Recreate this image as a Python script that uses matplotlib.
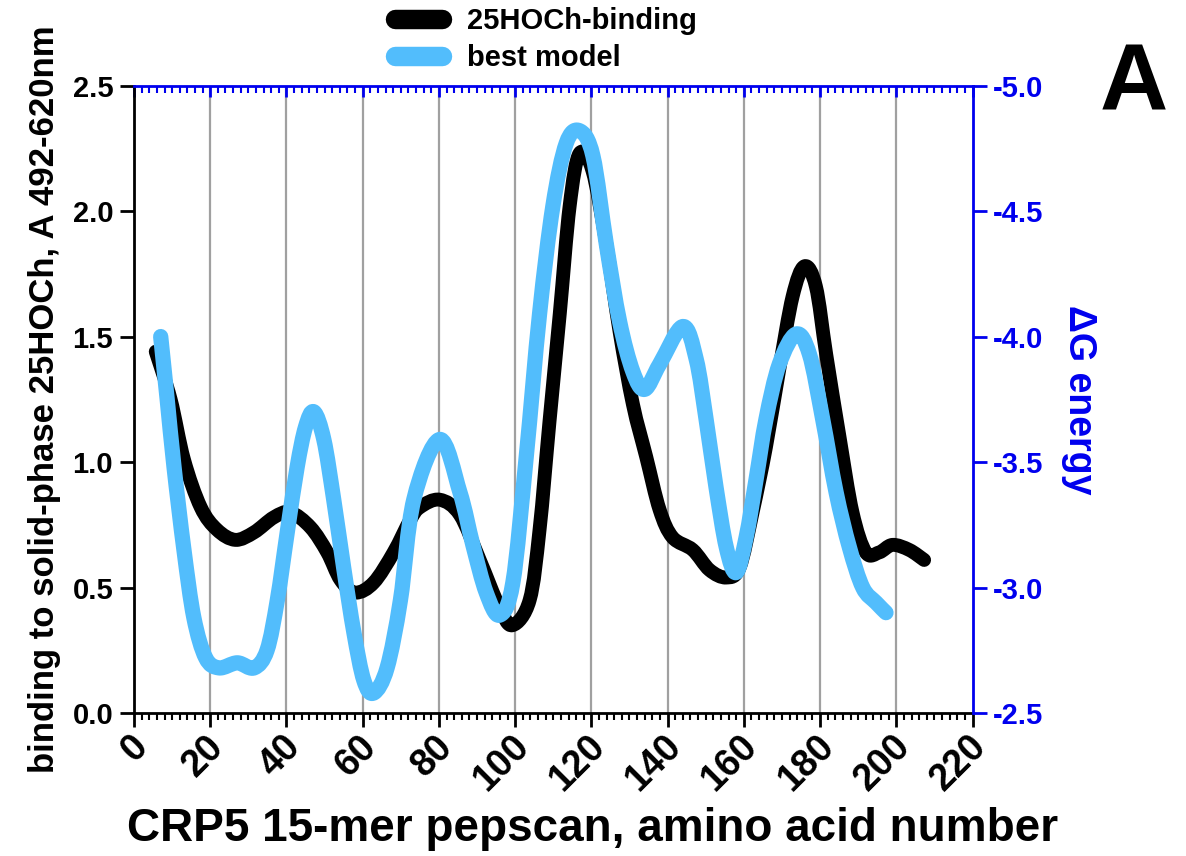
import numpy as np
import matplotlib.pyplot as plt
import matplotlib.transforms as mtransforms
from matplotlib.path import Path
from matplotlib.patches import PathPatch
from matplotlib.lines import Line2D
from matplotlib.ticker import MultipleLocator

plt.rcParams['font.family'] = ['Liberation Sans', 'DejaVu Sans']
plt.rcParams['font.weight'] = 'bold'
plt.rcParams['axes.unicode_minus'] = False

# 25HOCh binding (left axis, A 492-620nm)
bind_x = [5.7, 9.6, 13.1, 17.5, 21.8, 26.6, 31.5, 36.7, 41.0, 46.3, 50.7, 54.2, 58.1,
          62.9, 68.1, 72.5, 75.0, 80.2, 85.5, 90.7, 95.9, 99.3, 103.8, 106.4, 109.0,
          111.7, 114.3, 116.9, 120.3, 123.9, 127.4, 130.9, 134.4, 137.9, 141.3, 146.6,
          151.0, 155.4, 158.9, 162.3, 165.8, 169.3, 172.8, 175.9, 178.9, 181.6, 185.1,
          188.5, 192.0, 195.5, 199.0, 203.4, 207.3]
bind_y = [1.44, 1.25, 1.01, 0.82, 0.73, 0.69, 0.72, 0.78, 0.80, 0.74, 0.64, 0.53, 0.48,
          0.52, 0.64, 0.77, 0.82, 0.85, 0.79, 0.61, 0.42, 0.35, 0.45, 0.73, 1.16,
          1.59, 2.02, 2.23, 2.16, 1.87, 1.52, 1.23, 1.02, 0.81, 0.70, 0.65,
          0.57, 0.54, 0.58, 0.80, 1.06, 1.37, 1.66, 1.78, 1.70, 1.43, 1.10,
          0.80, 0.64, 0.64, 0.67, 0.65, 0.61]

# best model (right axis, delta G)
model_x = [7.0, 8.7, 10.5, 13.1, 15.7, 18.8, 22.3, 27.1, 31.5, 34.9, 37.6, 40.2, 42.8,
           45.0, 47.2, 49.8, 52.4, 55.0, 57.7, 60.3, 62.9, 66.4, 69.9, 73.4, 80.2, 85.5,
           88.9, 92.4, 95.9, 99.4, 102.9, 106.4, 109.9, 113.4, 116.9, 120.4, 123.9,
           127.4, 130.9, 134.0, 137.9, 144.0, 147.5, 150.1, 152.7, 155.4, 158.0, 160.6,
           163.2, 165.8, 169.3, 173.7, 177.2, 180.7, 184.2, 187.7, 191.2, 194.7, 197.3]
model_dg = [-4.00, -3.75, -3.48, -3.15, -2.88, -2.72, -2.68, -2.70, -2.68, -2.75, -2.95,
            -3.22, -3.48, -3.64, -3.70, -3.59, -3.35, -3.08, -2.82, -2.63, -2.58, -2.68,
            -2.95, -3.35, -3.59, -3.38, -3.17, -2.98, -2.89, -3.02, -3.52, -4.09, -4.52,
            -4.77, -4.82, -4.72, -4.37, -4.06, -3.86, -3.79, -3.89, -4.04, -3.91, -3.67,
            -3.40, -3.16, -3.06, -3.20, -3.43, -3.67, -3.89, -4.01, -3.93, -3.67, -3.38,
            -3.16, -3.00, -2.94, -2.90]

blue = '#0000ee'
sky = '#52bdfc'


def smooth_path(xs, ys):
    # Catmull-Rom through the points, drawn as cubic Bezier segments
    p = np.column_stack([xs, ys]).astype(float)
    verts = [p[0]]
    codes = [Path.MOVETO]
    n = len(p)
    for i in range(n - 1):
        p0 = p[i - 1] if i > 0 else p[i]
        p3 = p[i + 2] if i + 2 < n else p[i + 1]
        c1 = p[i] + (p[i + 1] - p0) / 6.0
        c2 = p[i + 1] - (p3 - p[i]) / 6.0
        verts += [c1, c2, p[i + 1]]
        codes += [Path.CURVE4] * 3
    return Path(verts, codes)


fig = plt.figure(figsize=(11.86, 8.56), dpi=100)
ax = fig.add_axes([0.113, 0.167, 0.707, 0.733])
ax2 = ax.twinx()

ax.add_patch(PathPatch(smooth_path(bind_x, bind_y), fill=False, edgecolor='black',
                       lw=10, capstyle='round', joinstyle='round', zorder=3))
ax2.add_patch(PathPatch(smooth_path(model_x, model_dg), fill=False, edgecolor=sky,
                        lw=11, capstyle='round', joinstyle='round', zorder=3))

ax.set_xlim(0, 220)
ax.set_ylim(0, 2.5)
ax2.set_ylim(-2.5, -5.0)

ax.xaxis.set_major_locator(MultipleLocator(20))
ax.xaxis.set_minor_locator(MultipleLocator(2))
ax.yaxis.set_major_locator(MultipleLocator(0.5))
ax.yaxis.set_major_formatter(plt.FormatStrFormatter('%.1f'))
ax2.yaxis.set_major_locator(MultipleLocator(0.5))
ax2.yaxis.set_major_formatter(plt.FormatStrFormatter('%.1f'))

# vertical grid
for gx in range(20, 220, 20):
    ax.axvline(gx, color='#a0a0a0', lw=1.6, zorder=0)

for s in ['left', 'bottom']:
    ax.spines[s].set_linewidth(2)
    ax.spines[s].set_color('black')
ax.spines['top'].set_visible(False)
ax.spines['right'].set_visible(False)
ax2.spines['left'].set_visible(False)
ax2.spines['bottom'].set_visible(False)
ax2.spines['top'].set_color(blue)
ax2.spines['top'].set_linewidth(2)
ax2.spines['right'].set_color(blue)
ax2.spines['right'].set_linewidth(2)

ax.tick_params(axis='x', which='major', length=10, width=2, direction='out',
               labelsize=27, pad=1)
ax.tick_params(axis='x', which='minor', length=5, width=1.5, direction='out')
ax.tick_params(axis='y', which='major', length=10, width=2, direction='out',
               labelsize=21, pad=5)
ax2.tick_params(axis='y', which='major', length=10, width=2, direction='out',
                colors=blue, labelsize=21, pad=5)

# top axis ticks (blue, inward)
top = ax.secondary_xaxis('top')
top.xaxis.set_major_locator(MultipleLocator(20))
top.xaxis.set_minor_locator(MultipleLocator(2))
top.tick_params(which='major', direction='in', length=8, width=2, color=blue,
                labeltop=False)
top.tick_params(which='minor', direction='in', length=5, width=1.5, color=blue)
top.spines['top'].set_visible(False)

offset = mtransforms.ScaledTranslation(0.21, 0, fig.dpi_scale_trans)
for lab in ax.get_xticklabels():
    lab.set_rotation(45)
    lab.set_ha('right')
    lab.set_fontweight('bold')
    lab.set_transform(lab.get_transform() + offset)
for lab in ax.get_yticklabels() + ax2.get_yticklabels():
    lab.set_fontweight('bold')

fig.text(0.5, 0.031, 'CRP5 15-mer pepscan, amino acid number', fontsize=33,
         fontweight='bold', ha='center', va='center')
ax.set_ylabel('binding to solid-phase 25HOCh, A 492-620nm', fontsize=25,
              fontweight='bold', labelpad=8)
ax2.set_ylabel('ΔG energy', fontsize=27, fontweight='bold', color=blue,
               rotation=270, labelpad=38)

fig.text(0.985, 0.952, 'A', fontsize=68, fontweight='bold', ha='right', va='top')

h1 = Line2D([], [], color='black', lw=14, solid_capstyle='round')
h2 = Line2D([], [], color=sky, lw=14, solid_capstyle='round')
fig.legend(handles=[h1, h2], labels=['25HOCh-binding', 'best model'],
           loc='upper left', bbox_to_anchor=(0.311, 1.022), frameon=False,
           handlelength=1.6, labelspacing=0.3, handletextpad=0.85,
           prop={'weight': 'bold', 'size': 21})

fig.savefig('out.png', dpi=100)
